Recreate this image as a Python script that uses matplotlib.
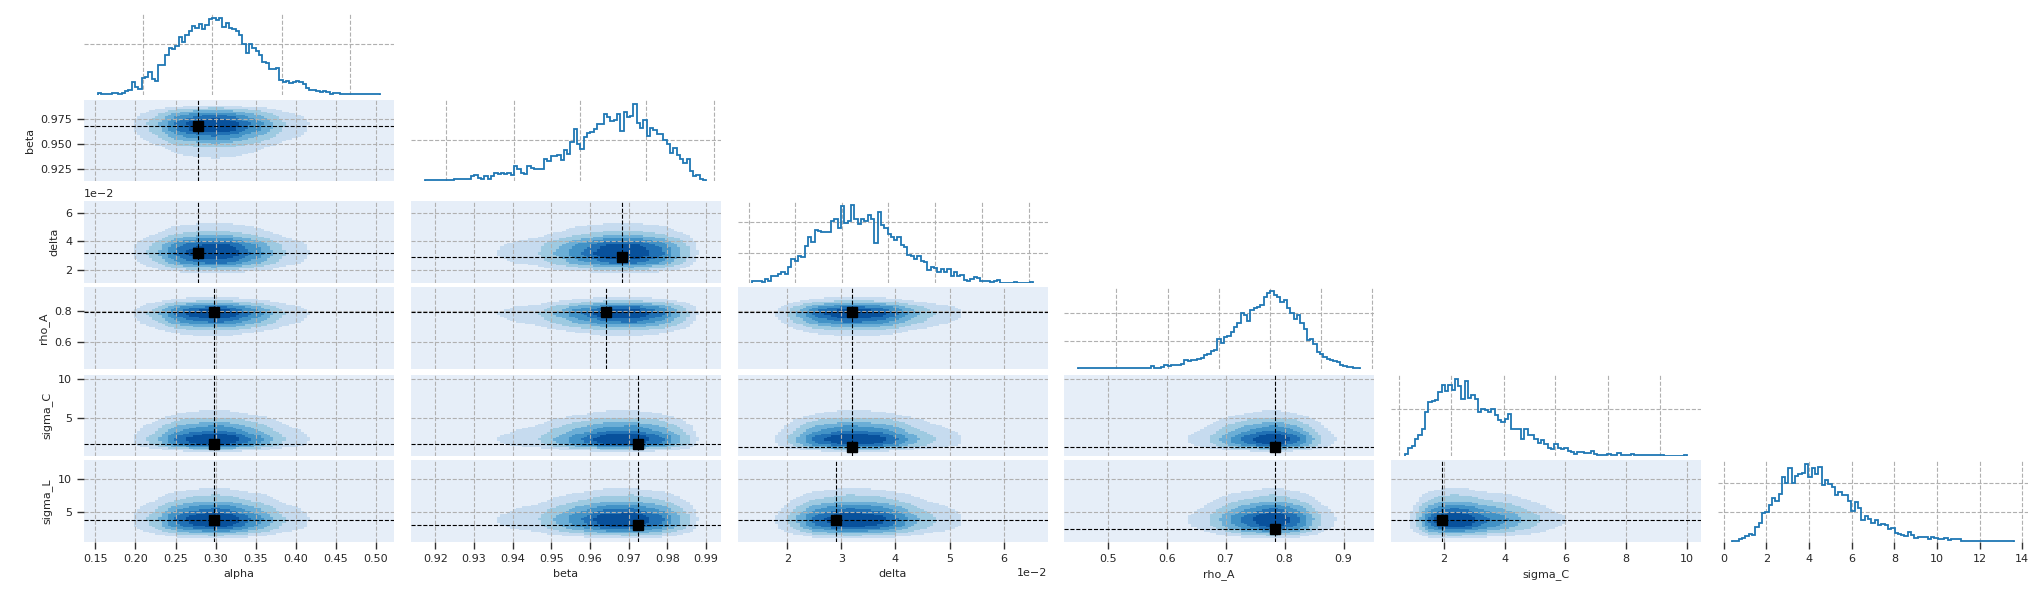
import numpy as np
import matplotlib
matplotlib.use('Agg')
import matplotlib.pyplot as plt
from matplotlib.colors import ListedColormap, BoundaryNorm
from matplotlib.ticker import ScalarFormatter

NAMES = ['alpha', 'beta', 'delta', 'rho_A', 'sigma_C', 'sigma_L']

# range covered by each marginal histogram (sample min / max)
LO = [0.1534, 0.9172, 0.01336, 0.4499, 0.72, 0.39]
HI = [0.5050, 0.9901, 0.06553, 0.9278, 10.0, 13.61]

# histogram counts
H_ALPHA = [8, 4, 5, 5, 9, 9, 5, 6, 17, 19, 49, 32, 22, 65, 70, 91, 61, 55, 117, 119,
           158, 183, 181, 190, 228, 206, 235, 250, 270, 260, 276, 258, 273, 296, 301, 292, 299, 267, 279, 260,
           258, 250, 235, 199, 164, 199, 183, 170, 158, 128, 126, 100, 100, 106, 59, 51, 55, 45, 51, 53,
           49, 42, 27, 19, 19, 17, 12, 17, 10, 4, 6, 6, 3, 3, 3, 2, 2, 3, 2, 2, 2, 2, 2, 3]
H_BETA = [4, 6, 5, 6, 5, 6, 5, 6, 6, 8, 10, 11, 11, 11, 23, 27, 16, 11, 23, 11,
          23, 39, 35, 39, 32, 39, 27, 71, 60, 39, 35, 71, 65, 56, 56, 56, 105, 97, 121, 123,
          124, 100, 148, 132, 189, 253, 181, 156, 213, 232, 237, 253, 274, 277, 323, 310, 290, 294, 323, 242,
          334, 310, 313, 374, 281, 258, 294, 216, 258, 245, 229, 229, 197, 177, 135, 161, 124, 108, 87, 108,
          47, 23, 27, 11, 6]
H_DELTA = [6, 6, 6, 2, 13, 6, 22, 24, 30, 36, 30, 54, 80, 72, 88, 86, 122, 152, 136, 174,
           172, 169, 169, 169, 206, 210, 183, 256, 199, 206, 258, 213, 194, 211, 206, 224, 211, 132, 236, 191,
           183, 163, 152, 141, 152, 124, 119, 91, 88, 80, 88, 72, 69, 44, 54, 50, 36, 47, 36, 46,
           24, 36, 24, 28, 11, 8, 12, 21, 16, 6, 6, 6, 2, 6, 11, 1, 1, 1, 1, 2,
           1, 1, 1, 1, 2]
H_RHO = [2, 2, 2, 2, 2, 2, 2, 2, 2, 2, 2, 2, 2, 2, 2, 3, 4, 2, 4, 5,
         4, 5, 10, 5, 5, 7, 16, 12, 13, 16, 16, 19, 31, 28, 31, 31, 37, 40, 49, 55,
         65, 67, 106, 94, 115, 118, 133, 149, 166, 199, 193, 173, 211, 217, 221, 229, 257, 274, 280, 265,
         259, 241, 247, 217, 199, 178, 193, 166, 142, 103, 106, 91, 61, 53, 43, 35, 31, 28, 25, 13,
         11, 7, 7, 5, 2]
H_SIGC = [10, 33, 41, 71, 89, 114, 189, 231, 236, 240, 274, 304, 277, 304, 283, 331, 300, 243, 321, 250,
          263, 243, 189, 200, 197, 190, 203, 174, 154, 146, 157, 179, 114, 117, 117, 71, 114, 89, 89, 71,
          57, 69, 50, 36, 31, 50, 36, 29, 36, 21, 17, 7, 19, 17, 11, 11, 21, 9, 6, 3,
          3, 10, 4, 3, 11, 3, 3, 3, 9, 3, 3, 3, 3, 3, 3, 3, 3, 3, 2, 2,
          2, 2, 2, 2, 3]
H_SIGL = [4, 4, 11, 13, 19, 27, 22, 52, 63, 97, 100, 124, 149, 138, 160, 219, 200, 249, 200, 222,
          230, 233, 263, 219, 249, 230, 252, 191, 210, 197, 186, 158, 167, 158, 158, 139, 104, 136, 113, 74,
          86, 78, 63, 74, 58, 60, 56, 44, 47, 30, 27, 24, 19, 33, 24, 13, 16, 16, 16, 9,
          16, 13, 10, 10, 13, 6, 10, 10, 10, 4, 4, 4, 4, 3, 4, 4, 4, 3, 4, 4,
          4, 3, 4, 4, 4]
HISTS = [H_ALPHA, H_BETA, H_DELTA, H_RHO, H_SIGC, H_SIGL]
HIST_YTICKS = [[200], [200], [100, 200], [100, 200], [200], [100, 200]]

# tick values of the 2-D panels (x for columns, y for rows)
TICKS = [[0.15, 0.20, 0.25, 0.30, 0.35, 0.40, 0.45, 0.50],
         [0.92, 0.93, 0.94, 0.95, 0.96, 0.97, 0.98, 0.99],
         [0.02, 0.03, 0.04, 0.05, 0.06],
         [0.5, 0.6, 0.7, 0.8, 0.9],
         [2, 4, 6, 8, 10],
         [0, 2, 4, 6, 8, 10, 12, 14]]
YTICKS = [None,
          [0.925, 0.950, 0.975],
          [0.02, 0.04, 0.06],
          [0.6, 0.8],
          [5, 10],
          [5, 10]]
# vertical grid positions on the diagonal histograms
DIAG_GRID = [[0.2089, 0.2950, 0.3828, 0.4673],
             [0.9228, 0.9402, 0.9574, 0.9746, 0.9920],
             [0.01287, 0.02135, 0.03008, 0.03867, 0.04734, 0.05600, 0.06466],
             [0.5147, 0.6017, 0.6884, 0.7749, 0.8620, 0.9486],
             [0.525, 2.23, 3.967, 5.67, 7.41, 9.115],
             [0, 2, 4, 6, 8, 10, 12, 14]]
SIGL_ROW_LIM = (0.55, 12.9)

# black square markers: row param index, column param index, x, y
MARK_ROW = [1, 2, 2, 3, 3, 3, 4, 4, 4, 4, 5, 5, 5, 5, 5]
MARK_COL = [0, 0, 1, 0, 1, 2, 0, 1, 2, 3, 0, 1, 2, 3, 4]
MARK_X = [0.2785, 0.2785, 0.9682, 0.2983, 0.9640, 0.0319, 0.2983, 0.9724, 0.0319, 0.7845,
          0.2983, 0.9724, 0.0289, 0.7845, 1.92]
MARK_Y = [0.9678, 0.0318, 0.0290, 0.790, 0.790, 0.790, 1.81, 1.81, 1.34, 1.34,
          3.83, 3.08, 3.83, 2.48, 3.83]

# --- layout (pixels of a 2044 x 604 canvas) --------------------------------
W_PX, H_PX = 2044, 604
COL_X = [84, 410.5, 737.5, 1064, 1391, 1718]
CELL_W = 310
ROW_Y = [(14, 95), (100, 181), (201, 283), (287, 369), (375, 456), (460, 542)]

BLUE = '#1f77b4'
GRID = dict(color='#b0b0b0', ls='--', lw=0.8)
TXT = '#262626'
LEVELS = [0, 0.1, 0.22, 0.36, 0.5, 0.65, 0.8, 1.01]
CMAP = ListedColormap(['#e6eef8', '#c6dbef', '#9ecae1', '#6baed6',
                       '#4292c6', '#2171b5', '#08519c'])
NORM = BoundaryNorm(LEVELS, CMAP.N)

plt.rcParams['font.family'] = 'DejaVu Sans'
plt.rcParams['font.size'] = 8


def lim(i):
    span = HI[i] - LO[i]
    return LO[i] - 0.05 * span, HI[i] + 0.05 * span


def edges(i):
    return np.linspace(LO[i], HI[i], len(HISTS[i]) + 1)


def marginal(i, v):
    # lightly smoothed histogram, used as a stand-in for the KDE
    counts = np.asarray(HISTS[i], float)
    k = np.exp(-0.5 * (np.arange(-6, 7) / 2.0) ** 2)
    sm = np.convolve(counts, k / k.sum(), mode='same')
    e = edges(i)
    centres = 0.5 * (e[1:] + e[:-1])
    return np.interp(v, centres, sm, left=0, right=0)


def new_ax(r, c):
    top, bot = ROW_Y[r]
    rect = [COL_X[c] / W_PX, 1 - bot / H_PX, CELL_W / W_PX, (bot - top) / H_PX]
    ax = fig.add_axes(rect)
    for s in ax.spines.values():
        s.set_visible(False)
    ax.tick_params(colors='#333333', labelcolor=TXT, labelsize=8, length=0, width=1.0)
    return ax


fig = plt.figure(figsize=(W_PX / 100, H_PX / 100), dpi=100, facecolor='white')

for r in range(6):
    for c in range(r + 1):
        ax = new_ax(r, c)
        if r == c:
            counts = HISTS[c]
            ax.stairs(counts, edges(c), color=BLUE, lw=1.3, baseline=0)
            ax.set_xlim(*lim(c))
            ax.set_ylim(0, max(counts) * 1.05)
            ax.set_xticks(DIAG_GRID[c])
            ax.set_yticks(HIST_YTICKS[c])
            ax.grid(True, **GRID)
            ax.set_axisbelow(True)
            ax.tick_params(labelbottom=False, labelleft=False)
            if r == 5:
                ax.tick_params(axis='x', labelbottom=True, length=5, width=1.0)
            continue

        xl = lim(c)
        yl = SIGL_ROW_LIM if r == 5 else lim(r)
        xe = np.linspace(xl[0], xl[1], 101)
        ye = np.linspace(yl[0], yl[1], 56)
        mx = marginal(c, 0.5 * (xe[1:] + xe[:-1]))
        my = marginal(r, 0.5 * (ye[1:] + ye[:-1]))
        z = np.outer(my, mx)
        z = z / z.max()
        ax.pcolormesh(xe, ye, z, cmap=CMAP, norm=NORM, shading='flat', zorder=1)
        ax.set_xlim(*xl)
        ax.set_ylim(*yl)
        ax.set_xticks(TICKS[c])
        ax.set_yticks(YTICKS[r])
        ax.grid(True, **GRID)
        ax.set_axisbelow(False)
        ax.tick_params(labelbottom=False, labelleft=False)

        for mr, mc, x, y in zip(MARK_ROW, MARK_COL, MARK_X, MARK_Y):
            if mr == r and mc == c:
                ax.axvline(x, color='black', ls='--', lw=0.8, zorder=4)
                ax.axhline(y, color='black', ls='--', lw=0.8, zorder=4)
                ax.plot([x], [y], 's', color='black', ms=6.5, zorder=5)

        if c == 0:
            ax.tick_params(axis='y', labelleft=True, length=5, width=1.0)
            ax.set_ylabel(NAMES[r], color=TXT, fontsize=8)
            if r == 2:
                fmt = ScalarFormatter()
                fmt.set_powerlimits((0, 0))
                ax.yaxis.set_major_formatter(fmt)
                ax.yaxis.get_offset_text().set_fontsize(8)
                ax.yaxis.get_offset_text().set_color(TXT)
        if r == 5:
            ax.tick_params(axis='x', labelbottom=True, length=5, width=1.0)
            ax.set_xlabel(NAMES[c], color=TXT, fontsize=8)
            if c == 2:
                fmt = ScalarFormatter()
                fmt.set_powerlimits((0, 0))
                ax.xaxis.set_major_formatter(fmt)
                ax.xaxis.get_offset_text().set_fontsize(8)
                ax.xaxis.get_offset_text().set_color(TXT)

fig.savefig('out.png', dpi=100, facecolor='white')
